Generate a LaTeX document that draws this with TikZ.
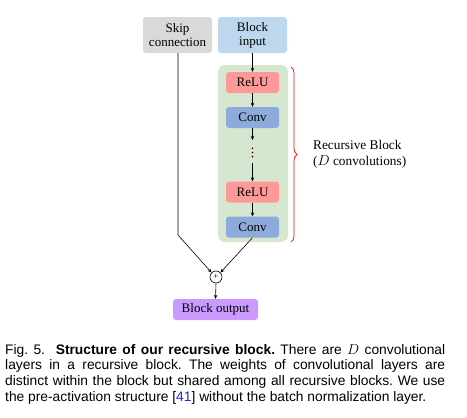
\documentclass[tikz,border=0pt]{standalone}
\usepackage{fontspec}
\setmainfont{Liberation Serif}
\newfontfamily\capfont{Liberation Sans}
\usetikzlibrary{arrows.meta,decorations.pathreplacing}
\definecolor{skipgray}{HTML}{D9D9D9}
\definecolor{inblue}{HTML}{BDD7EE}
\definecolor{recgreen}{HTML}{D5E8CF}
\definecolor{relured}{HTML}{FF9999}
\definecolor{convblue}{HTML}{8EAADB}
\definecolor{outpurple}{HTML}{CC99FF}
\definecolor{refblue}{HTML}{2222DD}
\tikzset{
  box/.style={rounded corners=3pt, inner sep=0pt, align=center, font=\fontsize{13}{14}\selectfont},
  arr/.style={-{Stealth[length=4pt,width=3.5pt]}, line width=0.6pt},
  ln/.style={line width=0.6pt},
}
\begin{document}
\begin{tikzpicture}[x=1pt,y=-1pt]
\useasboundingbox (0,0) rectangle (467,418);
% container
\fill[recgreen, rounded corners=7pt] (218,65) rectangle (288,242);
% top boxes
\node[box, fill=skipgray, minimum width=69pt, minimum height=36pt] (skip) at (177.5,35) {Skip\\connection};
\node[box, fill=inblue, minimum width=69pt, minimum height=36pt] (inp) at (252.5,35) {Block\\input};
% inner
\node[box, fill=relured, minimum width=53pt, minimum height=21pt] (r1) at (252.5,82.5) {ReLU};
\node[box, fill=convblue, minimum width=53pt, minimum height=21pt] (c1) at (252.5,117.5) {Conv};
\node[box, fill=relured, minimum width=53pt, minimum height=21pt] (r2) at (252.5,192) {ReLU};
\node[box, fill=convblue, minimum width=53pt, minimum height=21pt] (c2) at (252.5,227) {Conv};
% dots
\coordinate (dtop) at (252.5,140);
\coordinate (dbot) at (252.5,163);
\foreach \yy in {148.3,152.4,156.6} \fill[black!80!red] (252.5,\yy) circle (0.9pt);
% plus and output
\node[draw, circle, line width=0.6pt, minimum size=12pt, inner sep=0pt, font=\fontsize{9}{9}\selectfont] (plus) at (216,277) {+};
\node[box, fill=outpurple, minimum width=85pt, minimum height=21pt] (out) at (215.5,309.5) {Block output};
% arrows
\draw[arr] (inp.south) -- (r1.north);
\draw[arr] (r1.south) -- (c1.north);
\draw[arr] (c1.south) -- (dtop);
\draw[arr] (dbot) -- (r2.north);
\draw[arr] (r2.south) -- (c2.north);
\coordinate (bend) at (178,235);
\draw[arr] (skip.south -| bend) -- (bend) -- (plus.135);
\draw[arr] (c2.south) -- (plus.45);
\draw[arr] (plus.south) -- (out.north);
% brace
\coordinate (bt) at (291,67);
\coordinate (bb) at (291,242);
\draw[red, line width=0.7pt, decorate, decoration={brace, amplitude=6pt}] (bt) -- (bb);
\node[anchor=west, align=left, font=\fontsize{13.3}{16}\selectfont, inner sep=0pt] (lab) at (313,154) {Recursive Block\\($D$ convolutions)};
% caption
\node[anchor=north west, inner sep=0pt] (cap) at (5,344) {\parbox{440pt}{\capfont\fontsize{13.8}{15.7}\selectfont\hyphenpenalty=10000\frenchspacing
Fig.~5.\ \ \textbf{Structure of our recursive block.} There are $D$ convolutional\linebreak
layers in a recursive block. The weights of convolutional layers are\linebreak
distinct within the block but shared among all recursive blocks. We use\linebreak
the pre-activation structure [\textcolor{refblue}{41}] without the batch normalization layer.}};
\end{tikzpicture}
\end{document}
